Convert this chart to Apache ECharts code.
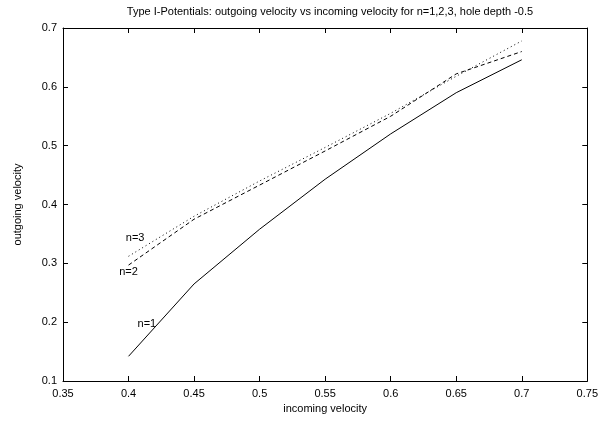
<!DOCTYPE html>
<html><head><meta charset="utf-8">
<script src="https://cdn.jsdelivr.net/npm/echarts@6/dist/echarts.min.js"></script>
<style>html,body{margin:0;padding:0;background:#fff}#c{width:601px;height:425px}</style>
</head><body><div id="c"></div>
<script>
var xValues = [0.4, 0.45, 0.5, 0.55, 0.6, 0.65, 0.7];
var n1 = [0.142, 0.265, 0.358, 0.443, 0.52, 0.59, 0.646];
var n2 = [0.297, 0.375, 0.433, 0.491, 0.55, 0.622, 0.66];
var n3 = [0.312, 0.38, 0.44, 0.497, 0.555, 0.618, 0.678];
var labelPos = {n1: [0.414, 0.197], n2: [0.4, 0.285], n3: [0.405, 0.343]};

var font = 'Liberation Sans, Arial, sans-serif';
function pairs(ys){ return xValues.map(function(x,i){ return [x, ys[i]]; }); }
function mk(name, ys, type, pos){
  return {
    type:'line', name:name, data:pairs(ys), symbol:'none', animation:false,
    lineStyle:{color:'#000', width:1, type:type},
    markPoint:{symbol:'circle', symbolSize:0, animation:false,
      data:[{coord:pos, label:{show:true, formatter:name, color:'#000', fontSize:11, fontFamily:font, position:'inside'}}]}
  };
}
var axisCommon = {
  axisLine:{show:true, lineStyle:{color:'#000', width:1}},
  axisTick:{show:true, inside:true, length:5, lineStyle:{color:'#000'}},
  splitLine:{show:false}
};
var chart = echarts.init(document.getElementById('c'));
chart.setOption({
  backgroundColor:'#fff',
  title:{text:'Type I-Potentials: outgoing velocity vs incoming velocity for n=1,2,3, hole depth -0.5',
    left:325, top:1, textAlign:'center',
    textStyle:{fontSize:11, fontWeight:'normal', color:'#000', fontFamily:font}},
  grid:{left:63, right:13, top:28, bottom:44},
  xAxis:[
    Object.assign({type:'value', min:0.35, max:0.75, interval:0.05, position:'bottom',
      name:'incoming velocity', nameLocation:'middle', nameGap:22,
      nameTextStyle:{fontSize:11, color:'#000', fontFamily:font},
      axisLabel:{color:'#000', fontSize:11, fontFamily:font, margin:7,
        formatter:function(v){ return String(+v.toFixed(2)); }}}, axisCommon),
    Object.assign({type:'value', min:0.35, max:0.75, interval:0.05, position:'top', axisLabel:{show:false}}, axisCommon)
  ],
  yAxis:[
    Object.assign({type:'value', min:0.1, max:0.7, interval:0.1, position:'left',
      name:'outgoing velocity', nameLocation:'middle', nameGap:40,
      nameTextStyle:{fontSize:11, color:'#000', fontFamily:font},
      axisLabel:{color:'#000', fontSize:11, fontFamily:font, margin:6,
        formatter:function(v){ return String(+v.toFixed(1)); }}}, axisCommon),
    Object.assign({type:'value', min:0.1, max:0.7, interval:0.1, position:'right', axisLabel:{show:false}}, axisCommon)
  ],
  series:[
    mk('n=1', n1, 'solid', labelPos.n1),
    mk('n=2', n2, [4,3], labelPos.n2),
    mk('n=3', n3, [1,3], labelPos.n3)
  ]
});
</script></body></html>
